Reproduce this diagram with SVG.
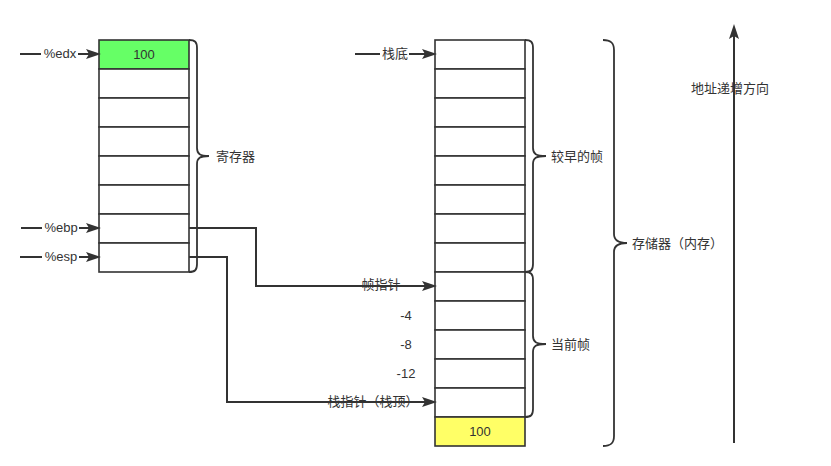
<svg xmlns="http://www.w3.org/2000/svg" width="831" height="466" viewBox="0 0 831 466">
<defs>
<marker id="arr" markerUnits="userSpaceOnUse" markerWidth="16" markerHeight="12" refX="11" refY="5" orient="auto">
<path d="M0,0 L15,5 L0,10 L3,5 z" fill="#333"/>
</marker>
<style>
.cell{fill:#fff;stroke:#333;stroke-width:1.6}
.g{fill:#66ff66}
.y{fill:#ffff66}
.t{font-family:"Liberation Sans","Noto Sans CJK SC",sans-serif;font-size:13px;fill:#333;dominant-baseline:central}
.m{text-anchor:middle}
.line{fill:none;stroke:#333;stroke-width:2}
.brace{fill:none;stroke:#333;stroke-width:1.8}
</style>
</defs>
<rect width="831" height="466" fill="#fff"/>

<g id="registers">
<rect class="cell g" x="99" y="40" width="90" height="29"/>
<rect class="cell" x="99" y="69" width="90" height="29"/>
<rect class="cell" x="99" y="98" width="90" height="29"/>
<rect class="cell" x="99" y="127" width="90" height="29"/>
<rect class="cell" x="99" y="156" width="90" height="29"/>
<rect class="cell" x="99" y="185" width="90" height="29"/>
<rect class="cell" x="99" y="214" width="90" height="29"/>
<rect class="cell" x="99" y="243" width="90" height="29"/>
<text class="t m" x="144" y="54">100</text>
</g>

<g id="memory">
<rect class="cell" x="435" y="40" width="90" height="29"/>
<rect class="cell" x="435" y="69" width="90" height="29"/>
<rect class="cell" x="435" y="98" width="90" height="29"/>
<rect class="cell" x="435" y="127" width="90" height="29"/>
<rect class="cell" x="435" y="156" width="90" height="29"/>
<rect class="cell" x="435" y="185" width="90" height="29"/>
<rect class="cell" x="435" y="214" width="90" height="29"/>
<rect class="cell" x="435" y="243" width="90" height="29"/>
<rect class="cell" x="435" y="272" width="90" height="29"/>
<rect class="cell" x="435" y="301" width="90" height="29"/>
<rect class="cell" x="435" y="330" width="90" height="29"/>
<rect class="cell" x="435" y="359" width="90" height="29"/>
<rect class="cell" x="435" y="388" width="90" height="29"/>
<rect class="cell y" x="435" y="417" width="90" height="29"/>
<text class="t m" x="480" y="431">100</text>
</g>

<g id="brace-registers">
<path class="brace" d="M189,40 C195,40 197,42 197,48 L197,148 C197,154 200,156 209,156 C200,156 197,158 197,164 L197,264 C197,270 195,272 189,272"/>
<text class="t" x="216" y="156">寄存器</text>
</g>

<g id="brace-earlier">
<path class="brace" d="M525,40 C531,40 533,42 533,48 L533,148 C533,154 536,156 546,156 C536,156 533,158 533,164 L533,264 C533,270 531,272 525,272"/>
<text class="t" x="551" y="156">较早的帧</text>
</g>

<g id="brace-current">
<path class="brace" d="M525,272 C531,272 533,274 533,280 L533,336 C533,342 536,344 546,344 C536,344 533,346 533,352 L533,409 C533,415 531,417 525,417"/>
<text class="t" x="551" y="344">当前帧</text>
</g>

<g id="brace-memory">
<path class="brace" d="M603,40 C611,40 614,43 614,50 L614,234 C614,240 618,243 627,243 C618,243 614,246 614,252 L614,436 C614,443 611,446 603,446"/>
<text class="t" x="632" y="243">存储器（内存）</text>
</g>

<g id="offsets">
<text class="t m" x="406" y="315">-4</text>
<text class="t m" x="406" y="344">-8</text>
<text class="t m" x="406" y="373">-12</text>
</g>

<g id="address-direction">
<line class="line" x1="734" y1="443" x2="734" y2="28" marker-end="url(#arr)"/>
<text class="t m" x="730" y="88">地址递增方向</text>
</g>

<g id="connectors">
<line class="line" x1="20" y1="54" x2="97" y2="54" marker-end="url(#arr)"/>
<rect x="41" y="45" width="37" height="18" fill="#fff"/>
<text class="t m" x="60" y="53">%edx</text>

<line class="line" x1="21" y1="228" x2="97" y2="228" marker-end="url(#arr)"/>
<rect x="42" y="219" width="37" height="18" fill="#fff"/>
<text class="t m" x="61" y="227">%ebp</text>

<line class="line" x1="20" y1="257" x2="97" y2="257" marker-end="url(#arr)"/>
<rect x="42" y="248" width="37" height="18" fill="#fff"/>
<text class="t m" x="61" y="256">%esp</text>

<line class="line" x1="355" y1="54" x2="433" y2="54" marker-end="url(#arr)"/>
<rect x="380" y="45" width="29" height="18" fill="#fff"/>
<text class="t m" x="395" y="53">栈底</text>

<polyline class="line" points="189,228 256,228 256,286 433,286" marker-end="url(#arr)"/>
<text class="t m" x="381" y="284">帧指针</text>

<polyline class="line" points="189,257 227,257 227,402 433,402" marker-end="url(#arr)"/>
<text class="t m" x="373" y="401">栈指针（栈顶）</text>
</g>
</svg>
